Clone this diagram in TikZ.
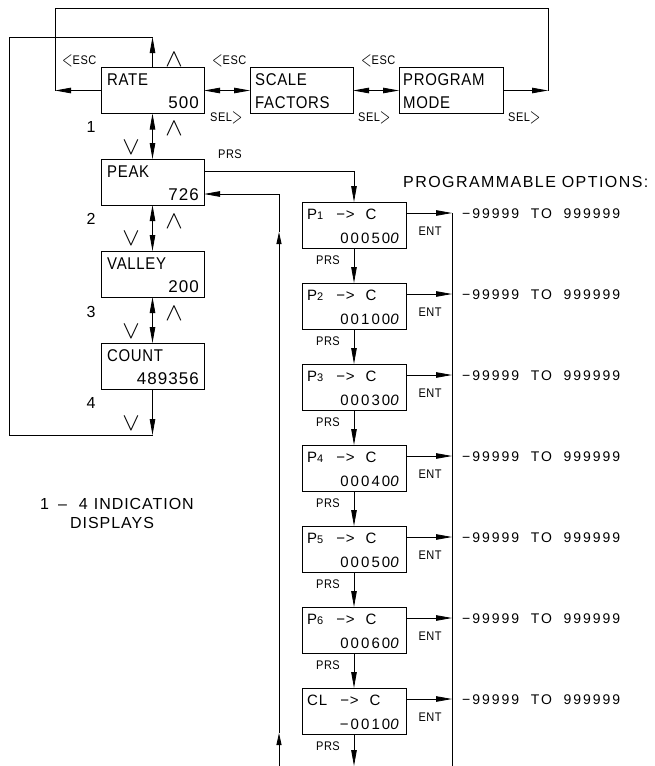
\documentclass[tikz,border=0pt]{standalone}
\usepackage{fontspec}
\usepackage{graphicx}
\setmainfont{Liberation Sans}[FakeStretch=0.88,LetterSpace=4]
\newfontfamily\numA{Liberation Sans}[LetterSpace=6]
\newfontfamily\numB{Liberation Sans}[LetterSpace=14]
\newfontfamily\wideA{Liberation Sans}[LetterSpace=9]
\newfontfamily\wideB{Liberation Sans}[LetterSpace=6]
\usetikzlibrary{arrows.meta}
\newcommand\ltch{\raisebox{-2pt}{\scalebox{0.8}[1.3]{\fontsize{18}{18}\selectfont$<$}}}
\newcommand\gtch{\raisebox{-2pt}{\scalebox{0.8}[1.3]{\fontsize{18}{18}\selectfont$>$}}}
\newcommand\esclbl{\ltch{\fontsize{12.5}{12.5}\selectfont ESC}}
\newcommand\sellbl{{\fontsize{12.5}{12.5}\selectfont SEL}\gtch}
\newcommand\pdig[1]{{\fontsize{11}{11}\selectfont#1}}
\newcommand\pline[1]{#1\hspace{13pt}−>\hspace{11pt}C}
\newcommand\upch{\scalebox{1.05}[1]{\fontsize{25}{25}\selectfont$\wedge$}}
\newcommand\dnch{\scalebox{1.05}[1]{\fontsize{25}{25}\selectfont$\vee$}}
\tikzset{
  ln/.style={line width=0.8pt},
  tip/.style={-{Triangle[length=16pt,width=5.5pt]}},
  stip/.style={-{Triangle[length=12pt,width=5pt]}},
  dbl/.style={{Triangle[length=16pt,width=5.5pt]}-{Triangle[length=16pt,width=5.5pt]}},
  box/.style={draw,line width=0.8pt,minimum width=103pt,minimum height=46pt,inner sep=0pt,outer sep=0pt},
  pbox/.style={box,minimum width=104pt},
  lt/.style={font=\fontsize{17}{17}\selectfont,inner sep=0pt,anchor=base west},
  rt/.style={font=\numA\fontsize{17}{17}\selectfont,inner sep=0pt,anchor=base east},
  plt/.style={font=\wideB\fontsize{15}{15}\selectfont,inner sep=0pt,anchor=base west},
  prt/.style={font=\numB\fontsize{15}{15}\selectfont,inner sep=0pt,anchor=base east},
  sml/.style={font=\fontsize{12.5}{12.5}\selectfont,inner sep=0pt},
  opt/.style={font=\numB\fontsize{14}{14}\selectfont,inner sep=0pt,anchor=base west},
  num/.style={font=\numA\fontsize{16}{16}\selectfont,inner sep=0pt},
  chev/.style={inner sep=0pt},
  lbl/.style={inner sep=0pt,anchor=base west},
  big/.style={font=\wideB\fontsize{16}{16}\selectfont,inner sep=0pt,anchor=base west},
}
\begin{document}
\begin{tikzpicture}[x=1pt,y=-1pt]
\useasboundingbox (0,0) rectangle (655,766);
% main boxes
\node[box] (rate) at (152.5,90.5) {};
\node[box] (scale) at (301.5,90.5) {};
\node[pbox] (prog) at (451,90.5) {};
\node[box] (peak) at (152.5,182) {};
\node[box] (valley) at (152.5,274) {};
\node[box] (count) at (152.5,366) {};
% box texts
\node[lt] (rateA) at ([xshift=6pt,yshift=-18pt]rate.north west) {RATE};
\node[rt] (rateB) at ([xshift=-5pt,yshift=5pt]rate.south east) {500};
\node[lt] (scaleA) at ([xshift=5pt,yshift=-18pt]scale.north west) {SCALE};
\node[lt] (scaleB) at ([xshift=5pt,yshift=5pt]scale.south west) {FACTORS};
\node[lt] (progA) at ([xshift=4pt,yshift=-18pt]prog.north west) {PROGRAM};
\node[lt] (progB) at ([xshift=4pt,yshift=5pt]prog.south west) {MODE};
\node[lt] (peakA) at ([xshift=6pt,yshift=-18pt]peak.north west) {PEAK};
\node[rt] (peakB) at ([xshift=-5pt,yshift=5pt]peak.south east) {726};
\node[lt] (valleyA) at ([xshift=6pt,yshift=-18pt]valley.north west) {VALLEY};
\node[rt] (valleyB) at ([xshift=-5pt,yshift=5pt]valley.south east) {200};
\node[lt] (countA) at ([xshift=6pt,yshift=-18pt]count.north west) {COUNT};
\node[rt] (countB) at ([xshift=-5pt,yshift=5pt]count.south east) {489356};
% program boxes
\node[pbox] (p1) at (354,225) {};
\node[pbox] (p2) at (354,306) {};
\node[pbox] (p3) at (354,387) {};
\node[pbox] (p4) at (354,468) {};
\node[pbox] (p5) at (354,549) {};
\node[pbox] (p6) at (354,630) {};
\node[pbox] (cl) at (354,711) {};
\foreach \n/\a/\b in {p1/P\pdig{1}/00050,p2/P\pdig{2}/00100,p3/P\pdig{3}/00030,p4/P\pdig{4}/00040,p5/P\pdig{5}/00050,p6/P\pdig{6}/00060,cl/CL/{−0010}}{
  \node[plt] (\n A) at ([xshift=5pt,yshift=-17pt]\n.north west) {\pline{\a}};
  \node[prt] (\n B) at ([xshift=-5pt,yshift=5pt]\n.south east) {\b\textit{0}};
  \node[sml] (\n P) at ([xshift=-26pt,yshift=-12pt]\n.south) {PRS};
  \node[sml] (\n E) at ([xshift=24pt,yshift=-6.5pt]\n.east) {ENT};
  \coordinate (\n e) at ([yshift=12pt]\n.east);
  \node[opt] (\n O) at ([xshift=56pt,yshift=-5pt]\n e) {−99999~~TO~~999999};
}
% top loop
\coordinate (lA) at (55,90.5);
\coordinate (lB) at (55,8);
\coordinate (lC) at (548,8);
\coordinate (lD) at (548,90.5);
\draw[ln,tip] (rate.west) -- (lA);
\draw[ln] (lA) -- (lB) -- (lC) -- (lD);
\draw[ln,tip] (prog.east) -- (lD);
\draw[ln,dbl] (rate.east) -- (scale.west);
\draw[ln,dbl] (scale.east) -- (prog.west);
% left loop
\coordinate (uA) at (152.5,37);
\coordinate (uB) at (9,37);
\coordinate (uC) at (9,435);
\coordinate (uD) at (152.5,435);
\draw[ln,tip] (rate.north) -- (uA);
\draw[ln] (uA) -- (uB) -- (uC) -- (uD);
\draw[ln,tip] (count.south) -- (uD);
\draw[ln,dbl] (rate.south) -- (peak.north);
\draw[ln,dbl] (peak.south) -- (valley.north);
\draw[ln,dbl] (valley.south) -- (count.north);
% PRS to P1
\coordinate (pr) at (354,171);
\draw[ln] ([yshift=11pt]peak.east) -- (pr);
\draw[ln,tip] (pr) -- (p1.north);
\draw[ln,tip] (p1.south) -- (p2.north);
\draw[ln,tip] (p2.south) -- (p3.north);
\draw[ln,tip] (p3.south) -- (p4.north);
\draw[ln,tip] (p4.south) -- (p5.north);
\draw[ln,tip] (p5.south) -- (p6.north);
\draw[ln,tip] (p6.south) -- (cl.north);
\coordinate (pend) at (354,766);
\draw[ln,tip] (cl.south) -- (pend);
% ENT
\coordinate (ev) at (452,766);
\foreach \n in {p1,p2,p3,p4,p5,p6,cl}{
  \draw[ln,tip] (\n e) -- (\n e -| ev);
}
\draw[ln] (p1e -| ev) -- (ev);
% return line
\coordinate (rb) at (279,766);
\coordinate (ra1) at (279,733);
\coordinate (ra2) at (279,232);
\coordinate (rm) at (279,194);
\draw[ln,stip] (rb) -- (ra1);
\draw[ln,stip] (ra1) -- (ra2);
\draw[ln] (ra2) -- (rm);
\draw[ln,tip] (rm) -- (peak.east |- rm);
% labels
\node[lbl] (escA) at (62,64) {\esclbl};
\node[lbl] (escB) at (212,64) {\esclbl};
\node[lbl] (escC) at (361,64) {\esclbl};
\node[lbl] (selA) at (210,121) {\sellbl};
\node[lbl] (selB) at (358,121) {\sellbl};
\node[lbl] (selC) at (508,121) {\sellbl};
\node[chev] (upR) at (174,60) {\upch};
\node[chev] (upP) at (174,129) {\upch};
\node[chev] (upV) at (174,222) {\upch};
\node[chev] (upC) at (174,314) {\upch};
\node[chev] (dnP) at (131,148) {\dnch};
\node[chev] (dnV) at (131,239) {\dnch};
\node[chev] (dnC) at (131,332) {\dnch};
\node[chev] (dnL) at (131,424) {\dnch};
\node[num] (n1) at (91,127) {1};
\node[num] (n2) at (91,219) {2};
\node[num] (n3) at (91,312) {3};
\node[num] (n4) at (91,403) {4};
\node[sml] (prsP) at (230,154) {PRS};
\node[big,font=\wideA\fontsize{16}{16}\selectfont] (optT) at (403,187) {PROGRAMMABLE OPTIONS:};
\node[big] (ind1) at (40,509) {1\hspace{9pt}–\hspace{12pt}4\hspace{6pt}INDICATION};
\node[big] (ind2) at (70,528) {DISPLAYS};
\end{tikzpicture}
\end{document}
